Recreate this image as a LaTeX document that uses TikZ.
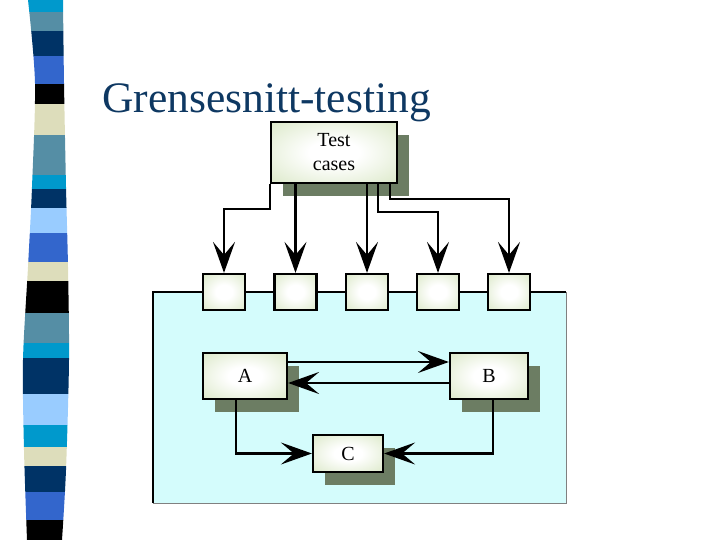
\documentclass[tikz,border=0pt]{standalone}
\usepackage{fontspec}
\setmainfont{Liberation Serif}
\usepackage{xcolor}
\usetikzlibrary{arrows.meta,shadows}

\definecolor{titleblue}{RGB}{14,56,98}
\definecolor{boxgreen}{RGB}{206,224,180}
\definecolor{shadowgreen}{RGB}{108,125,99}
\definecolor{panelcyan}{RGB}{212,252,252}
\definecolor{scyan}{RGB}{0,153,204}
\definecolor{ssteel}{RGB}{85,142,165}
\definecolor{snavy}{RGB}{0,51,102}
\definecolor{sroyal}{RGB}{51,102,204}
\definecolor{sbeige}{RGB}{221,221,187}
\definecolor{slight}{RGB}{153,204,255}

\pgfdeclareradialshading{boxglow}{\pgfpoint{0bp}{0bp}}{color(0bp)=(white); color(10bp)=(white); color(46bp)=(boxgreen); color(50bp)=(boxgreen)}

\tikzset{
  box/.style={draw, line width=2.2pt, shading=boxglow, inner sep=0pt, align=center, font=\fontsize{20}{24}\selectfont},
  boxshadow/.style={drop shadow={shadow xshift=12pt, shadow yshift=-13pt, fill=shadowgreen, opacity=1}},
  port/.style={draw, line width=2.2pt, shading=boxglow, inner sep=0pt, minimum width=42pt, minimum height=36pt},
  flow/.style={-{Stealth[length=31pt, width=22pt, inset=13pt]}, line width=2.4pt},
}

\begin{document}
\begin{tikzpicture}[x=1pt, y=-1pt]
\useasboundingbox (0,0) rectangle (720,540);

\begin{scope}
\clip plot[smooth] coordinates {(28,0) (35,83) (32,187) (28,267) (23,360) (24,450) (27,540)}
  -- plot[smooth] coordinates {(62,540) (66,470) (69,360) (68,267) (66,187) (64,83) (63,0)} -- cycle;
\foreach \ya/\yb/\col in {0/12/scyan, 12/31/ssteel, 31/56/snavy, 56/84/sroyal, 84/104/black,
  104/135/sbeige, 135/175/ssteel, 175/189/scyan, 189/208/snavy, 208/233/slight, 233/262/sroyal,
  262/281/sbeige, 281/313/black, 313/343/ssteel, 343/358/scyan, 358/394/snavy, 394/425/slight,
  425/447/scyan, 447/466/sbeige, 466/492/snavy, 492/520/sroyal, 520/540/black}
  \fill[\col] (0,\ya) rectangle (100,\yb);
\end{scope}

\node (title) [anchor=base west, inner sep=0pt, text=titleblue, font=\fontsize{43.5}{50}\selectfont] at (102,113) {Grensesnitt-testing};

\fill[panelcyan] (153,292) rectangle (566,503);
\draw[gray, line width=0.8pt] (566,292) -- (566,503) -- (153,503);
\draw[line width=1.4pt] (153,503) -- (153,292) -- (566,292);

\node (tc) [box, boxshadow, minimum width=126pt, minimum height=61pt] at (334,152.5) {Test\\cases};

\node (port1) [port] at (224,292) {};
\node (port2) [port] at (295.5,292) {};
\node (port3) [port] at (367,292) {};
\node (port4) [port] at (438,292) {};
\node (port5) [port] at (509,292) {};

\node (a) [box, boxshadow, minimum width=84pt, minimum height=46pt] at (245,376) {A};
\node (b) [box, boxshadow, minimum width=78pt, minimum height=46pt] at (489,376) {B};
\node (c) [box, boxshadow, minimum width=70pt, minimum height=37pt] at (348,453.5) {C};

\draw[flow] (tc.south west) -- ++(0,25) -| (port1.north);
\draw[flow] (tc.south -| port2.north) -- (port2.north);
\draw[flow] (tc.south -| port3.north) -- (port3.north);
\draw[flow] ([xshift=44pt]tc.south) -- ++(0,28) -| (port4.north);
\draw[flow] ([xshift=56pt]tc.south) -- ++(0,15) -| (port5.north);

\draw[flow] ([yshift=14pt]a.east) -- ([yshift=14pt]b.west);
\draw[flow] ([yshift=-7pt]b.west) -- ([yshift=-7pt]a.east);
\draw[flow] ([xshift=-9pt]a.south) |- (c.west);
\draw[flow] ([xshift=4pt]b.south) |- (c.east);
\end{tikzpicture}
\end{document}
